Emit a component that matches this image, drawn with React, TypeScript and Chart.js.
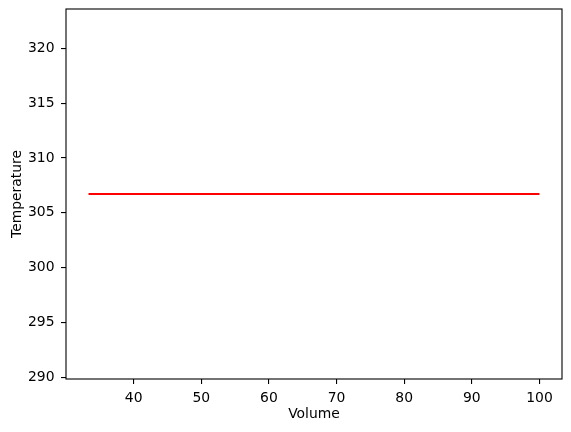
import React, { useEffect, useRef } from "react";
import { Chart, registerables } from "chart.js";

Chart.register(...registerables);

const volumes = [33.33, 100];
const temperatures = [306.72, 306.72];
const xTicks = [40, 50, 60, 70, 80, 90, 100];
const yTicks = [290, 295, 300, 305, 310, 315, 320];
const xRange = [30, 103.33];
const yRange = [289.85, 323.59];

const FONT = "'DejaVu Sans', sans-serif";

const boxPlugin = {
  id: "boxPlugin",
  afterDraw(chart: any) {
    const { ctx, chartArea } = chart;
    ctx.save();
    ctx.strokeStyle = "#000";
    ctx.lineWidth = 1.1;
    ctx.strokeRect(chartArea.left, chartArea.top, chartArea.right - chartArea.left, chartArea.bottom - chartArea.top);
    ctx.restore();
  },
};

export default function App() {
  const ref = useRef<HTMLCanvasElement | null>(null);
  useEffect(() => {
    if (!ref.current) return;
    const chart = new Chart(ref.current, {
      type: "line",
      data: {
        datasets: [
          {
            data: volumes.map((v, i) => ({ x: v, y: temperatures[i] })),
            borderColor: "#ff0000",
            borderWidth: 2.1,
            pointRadius: 0,
            fill: false,
          },
        ],
      },
      plugins: [boxPlugin],
      options: {
        animation: false,
        responsive: false,
        devicePixelRatio: 1,
        layout: { padding: { top: 9, right: 9, left: 0, bottom: 0 } },
        plugins: { legend: { display: false }, tooltip: { enabled: false } },
        scales: {
          x: {
            type: "linear",
            min: xRange[0],
            max: xRange[1],
            afterBuildTicks: (s: any) => {
              s.ticks = xTicks.map((v) => ({ value: v }));
            },
            afterFit: (s: any) => {
              s.height = 53;
              s.paddingLeft = 0;
              s.paddingRight = 0;
            },
            border: { display: false },
            grid: { drawOnChartArea: false, drawTicks: true, tickLength: 5, color: "#000", lineWidth: 1.1 },
            ticks: { color: "#000", font: { family: FONT, size: 13.9 }, padding: 6, maxRotation: 0 },
            title: { display: true, text: "Volume", color: "#000", font: { family: FONT, size: 13.9 }, padding: { top: 0, bottom: 9 } },
          },
          y: {
            type: "linear",
            min: yRange[0],
            max: yRange[1],
            afterBuildTicks: (s: any) => {
              s.ticks = yTicks.map((v) => ({ value: v }));
            },
            afterFit: (s: any) => {
              s.width = 66;
              s.paddingTop = 0;
              s.paddingBottom = 0;
            },
            border: { display: false },
            grid: { drawOnChartArea: false, drawTicks: true, tickLength: 5, color: "#000", lineWidth: 1.1 },
            ticks: { color: "#000", font: { family: FONT, size: 13.9 }, padding: 6.5 },
            title: { display: true, text: "Temperature", color: "#000", font: { family: FONT, size: 13.9 }, padding: { top: 8.7, bottom: 0 } },
          },
        },
      },
    });
    return () => chart.destroy();
  }, []);
  return (
    <div style={{ position: "absolute", left: 0, top: 0, width: 571, height: 432, background: "#fff" }}>
      <canvas ref={ref} width={571} height={432} style={{ width: 571, height: 432 }} />
    </div>
  );
}
